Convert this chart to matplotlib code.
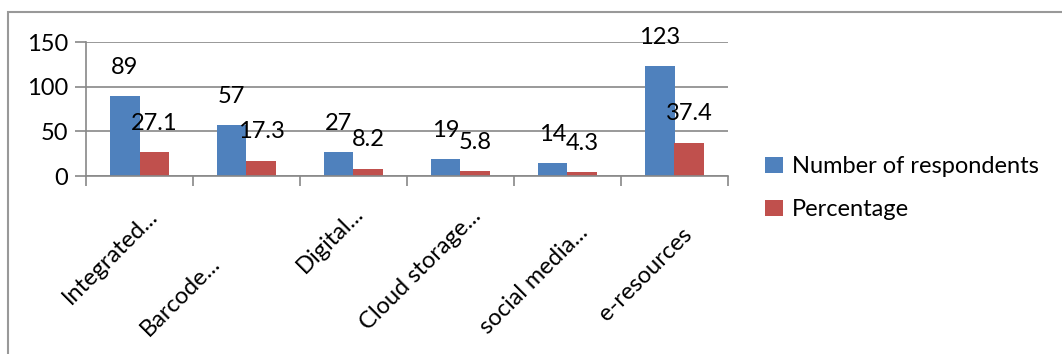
import matplotlib.pyplot as plt
from matplotlib.patches import Rectangle
import numpy as np

categories = ['Integrated...', 'Barcode...', 'Digital...', 'Cloud storage...',
              'social media...', 'e-resources']
respondents = [89, 57, 27, 19, 14, 123]
percentage = [27.1, 17.3, 8.2, 5.8, 4.3, 37.4]
yticks = [0, 50, 100, 150]

plt.rcParams['font.family'] = ['Lato', 'DejaVu Sans']
blue = '#4F81BD'
red = '#C0504D'
grey = '#888888'
fs = 17

fig = plt.figure(figsize=(10.62, 3.54), dpi=100)
W, H = 1062, 354
ax = fig.add_axes([86 / W, 1 - 176 / H, (728 - 86) / W, (176 - 42) / H])

x = np.arange(len(categories))
w = 0.28
b1 = ax.bar(x - w / 2, respondents, w, color=blue, label='Number of respondents')
b2 = ax.bar(x + w / 2, percentage, w, color=red, label='Percentage')

# value labels sit a fixed distance above each bar
for bars, vals in ((b1, respondents), (b2, percentage)):
    for rect, v in zip(bars, vals):
        ax.annotate(f'{v:g}', (rect.get_x() + rect.get_width() / 2, v),
                    xytext=(0, 16), textcoords='offset points',
                    ha='center', va='baseline', fontsize=fs, color='black')

ax.set_xlim(-0.5, len(categories) - 0.5)
ax.set_ylim(0, 150)
ax.set_yticks(yticks)
ax.tick_params(axis='y', length=8, width=1.2, color=grey, labelsize=fs, pad=5)
ax.yaxis.grid(True, color=grey, linewidth=1.2)
ax.set_axisbelow(True)

# category boundaries get the tick marks; names are placed by hand below
ax.set_xticks(np.arange(len(categories) + 1) - 0.5)
ax.set_xticklabels([])
ax.tick_params(axis='x', length=7.5, color=grey, width=1.2)

# end of each slanted name, in px right of the group centre / below the axis
name_dx = [19, -25, 11, 22, 22, 19]
name_dy = [41, 89, 39, 41, 58, 60]
for i, name in enumerate(categories):
    ax.annotate(name, (i, 0), xycoords=('data', 'axes fraction'),
                xytext=(name_dx[i] * 0.72, -name_dy[i] * 0.72),
                textcoords='offset points', rotation=45,
                rotation_mode='anchor', ha='right', va='baseline',
                fontsize=fs, annotation_clip=False)

for side in ('top', 'right'):
    ax.spines[side].set_visible(False)
for side in ('left', 'bottom'):
    ax.spines[side].set_color(grey)
    ax.spines[side].set_linewidth(1.2)

ax.legend(loc='center left', bbox_to_anchor=(765 / W, 1 - 188 / H),
          bbox_transform=fig.transFigure, frameon=False, fontsize=fs,
          handlelength=0.76, handleheight=0.68, handletextpad=0.38,
          labelspacing=0.93, borderpad=0, borderaxespad=0)

fig.patches.append(Rectangle((8 / W, -0.1), 1.2, 1 - 12.5 / H + 0.1,
                             transform=fig.transFigure, fill=False,
                             edgecolor='#999999', linewidth=1.5))

fig.savefig('out.png', dpi=100, facecolor='white')
